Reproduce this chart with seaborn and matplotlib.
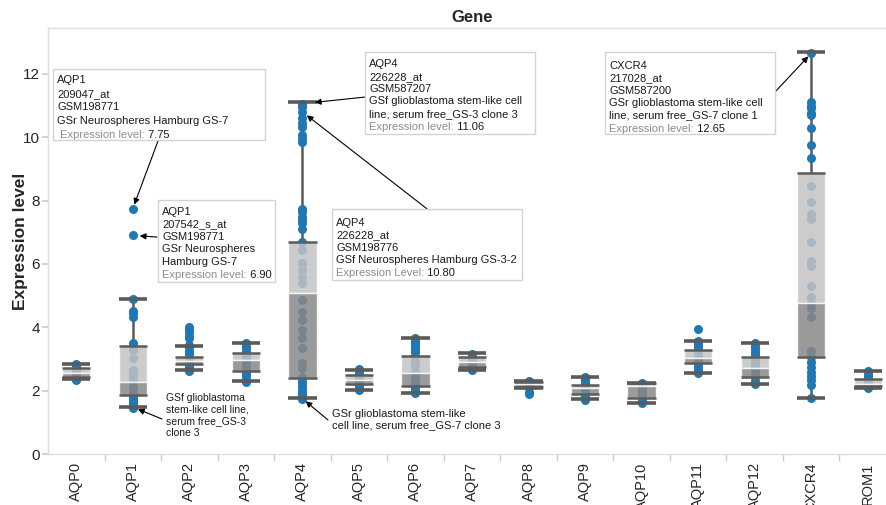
import numpy as np
import pandas as pd
import seaborn as sns
import matplotlib.pyplot as plt
from matplotlib.patches import Rectangle

genes = ['AQP0', 'AQP1', 'AQP2', 'AQP3', 'AQP4', 'AQP5', 'AQP6', 'AQP7',
         'AQP8', 'AQP9', 'AQP10', 'AQP11', 'AQP12', 'CXCR4', 'ROM1']

# sample-level expression values
aqp0 = [2.83, 2.78, 2.72, 2.65, 2.60, 2.55, 2.50, 2.45, 2.42, 2.38, 2.33]
aqp1 = [7.75, 6.90, 4.89, 4.53, 4.44, 4.34, 3.52, 3.42, 3.28, 3.02, 2.65, 2.55,
        2.45, 2.34, 2.13, 1.95, 1.81, 1.70, 1.60, 1.55, 1.48, 1.44]
aqp2 = [4.00, 3.92, 3.84, 3.74, 3.66, 3.45, 3.38, 3.25, 3.15, 3.05, 2.98, 2.90,
        2.82, 2.75, 2.68, 2.63]
aqp3 = [3.50, 3.42, 3.35, 3.25, 3.15, 3.05, 2.95, 2.85, 2.75, 2.65, 2.55, 2.45,
        2.35, 2.26]
aqp4 = [11.06, 10.95, 10.80, 10.62, 10.44, 10.33, 10.07, 9.95, 9.86, 7.72, 7.65,
        7.49, 7.38, 7.28, 7.10, 6.70, 6.44, 6.02, 5.81, 5.60, 5.39, 4.86, 4.49,
        4.23, 3.92, 3.65, 3.34, 2.86, 2.71, 2.44, 2.30, 2.20, 2.10, 2.00, 1.90,
        1.82, 1.75]
aqp5 = [2.68, 2.60, 2.52, 2.45, 2.38, 2.30, 2.22, 2.15, 2.08, 2.03]
aqp6 = [3.65, 3.58, 3.50, 3.42, 3.33, 3.22, 3.10, 2.95, 2.80, 2.60, 2.42, 2.30,
        2.18, 2.08, 2.00, 1.92]
aqp7 = [3.15, 3.08, 3.00, 2.92, 2.85, 2.78, 2.70, 2.65]
aqp8 = [2.30, 2.25, 2.20, 2.15, 2.10, 1.95, 1.88]
aqp9 = [2.42, 2.35, 2.25, 2.15, 2.05, 1.95, 1.85, 1.76, 1.70]
aqp10 = [2.25, 2.18, 2.10, 2.00, 1.92, 1.85, 1.76, 1.68, 1.62]
aqp11 = [3.95, 3.58, 3.50, 3.40, 3.30, 3.18, 3.05, 2.95, 2.85, 2.75, 2.65, 2.57]
aqp12 = [3.50, 3.42, 3.32, 3.22, 3.12, 3.02, 2.92, 2.80, 2.68, 2.55, 2.42, 2.30,
         2.21]
cxcr4 = [12.65, 11.12, 11.00, 10.91, 10.78, 10.70, 10.30, 9.75, 9.34, 8.46, 7.96,
         7.58, 7.41, 6.70, 6.09, 5.94, 5.30, 4.97, 4.78, 4.60, 4.34, 3.25, 3.07,
         2.91, 2.75, 2.60, 2.45, 2.34, 2.18, 1.76]
rom1 = [2.63, 2.55, 2.45, 2.38, 2.30, 2.22, 2.15, 2.08]
points = [aqp0, aqp1, aqp2, aqp3, aqp4, aqp5, aqp6, aqp7, aqp8, aqp9, aqp10,
          aqp11, aqp12, cxcr4, rom1]

# box summaries as drawn in the chart
whisker_hi = np.array([2.84, 4.89, 3.41, 3.49, 11.10, 2.65, 3.65, 3.20, 2.30, 2.42, 2.25, 3.58, 3.49, 12.70, 2.63])
q3 = np.array([2.70, 3.42, 3.07, 3.18, 6.70, 2.49, 3.09, 3.07, 2.27, 2.19, 2.24, 3.28, 3.05, 8.88, 2.37])
median = np.array([2.55, 2.28, 2.94, 2.97, 5.07, 2.34, 2.57, 2.91, 2.20, 2.07, 2.15, 3.02, 2.70, 4.78, 2.22])
q1 = np.array([2.44, 1.86, 2.84, 2.63, 2.39, 2.21, 2.15, 2.76, 2.12, 1.89, 1.76, 2.88, 2.42, 3.07, 2.15])
whisker_lo = np.array([2.36, 1.49, 2.65, 2.30, 1.76, 2.02, 1.92, 2.65, 2.07, 1.73, 1.62, 2.57, 2.21, 1.76, 2.07])

sns.set_theme(style='ticks')
plt.rcParams['font.family'] = ['Liberation Sans', 'DejaVu Sans']

df = pd.DataFrame({
    'Gene': np.repeat(genes, [len(p) for p in points]),
    'Expression': np.concatenate(points),
})

fig = plt.figure(figsize=(8.87, 5.05), dpi=100)
ax = fig.add_axes([48 / 887, 51 / 505, 848 / 887, 426 / 505])

sns.stripplot(data=df, x='Gene', y='Expression', order=genes, jitter=False,
              color='#1f77b4', size=6.5, linewidth=0, ax=ax, zorder=2)

pos = np.arange(len(genes))
w = 0.5
line_c = '#5a5a5a'
# whiskers under the points, box over them
ax.vlines(pos, q3, whisker_hi, color=line_c, lw=1.8, zorder=1.5)
ax.vlines(pos, whisker_lo, q1, color=line_c, lw=1.8, zorder=1.5)
ax.bar(pos, q3 - median, bottom=median, width=w, color='#c3c3c3', alpha=0.85, zorder=3)
ax.bar(pos, median - q1, bottom=q1, width=w, color='#888888', alpha=0.85, zorder=3)
ax.hlines(np.r_[q3, q1], np.r_[pos, pos] - w / 2, np.r_[pos, pos] + w / 2,
          color=line_c, lw=1.8, zorder=3.5)
ax.hlines(np.r_[whisker_hi, whisker_lo], np.r_[pos, pos] - w / 2, np.r_[pos, pos] + w / 2,
          color=line_c, lw=2.6, zorder=3.5)

ax.set_xlim(-0.5, len(genes) - 0.5)
ax.set_ylim(0, 13.45)
ax.set_yticks(range(0, 13, 2))
ax.set_xticks(np.arange(0.5, len(genes) - 1, 1), minor=True)
ax.tick_params(axis='y', length=4, color='#cccccc', labelsize=11, pad=2)
ax.tick_params(axis='x', which='major', length=0, labelsize=10.5, rotation=90, pad=6)
ax.tick_params(axis='x', which='minor', length=5, color='#cccccc')
for s in ax.spines.values():
    s.set_color('#dddddd')
    s.set_linewidth(1)
ax.spines['right'].set_visible(False)
ax.set_xlabel('')
ax.set_ylabel('Expression level', fontsize=12.5, fontweight='bold', labelpad=-4)
ax.set_title('Gene', fontsize=12, fontweight='bold', pad=4)

txt_c = '#1a1a1a'


def tooltip(x0, x1, y0, y1, lines, label, value, top=-5.2, ls=1.30, gap=-2.3):
    ax.add_patch(Rectangle((x0, y1), x1 - x0, y0 - y1, fc='white', ec='#d3d3d3',
                           lw=1, zorder=5))
    t = ax.annotate('\n'.join(lines), xy=(x0, y0), xytext=(3, top),
                    textcoords='offset points', ha='left', va='top', fontsize=8,
                    color=txt_c, linespacing=ls, zorder=6)
    g = ax.annotate(label, xy=(0, 0), xycoords=t, xytext=(0, gap),
                    textcoords='offset points', ha='left', va='top', fontsize=8,
                    color='#8c8c8c', zorder=6)
    ax.annotate(' ' + value, xy=(1, 0), xycoords=g, ha='left', va='bottom',
                fontsize=8, color=txt_c, zorder=6)


def arrow(start, end, shrink):
    ax.annotate('', xy=end, xytext=start,
                arrowprops=dict(arrowstyle='-|>', color='black', lw=0.8,
                                shrinkA=0, shrinkB=shrink, mutation_scale=9),
                zorder=4)


tooltip(-0.412, 3.339, 12.16, 9.915,
        ['AQP1', '209047_at', 'GSM198771', 'GSr Neurospheres Hamburg GS-7'],
        ' Expression level:', '7.75', top=-4.5, ls=1.44, gap=-3.2)
tooltip(1.446, 3.516, 8.02, 5.431,
        ['AQP1', '207542_s_at', 'GSM198771', 'GSr Neurospheres', 'Hamburg GS-7'],
        'Expression level:', '6.90')
tooltip(5.108, 8.115, 12.69, 10.10,
        ['AQP4', '226228_at', 'GSM587207', 'GSf glioblastoma stem-like cell',
         'line, serum free_GS-3 clone 3'],
        'Expression level:', '11.06')
tooltip(4.524, 7.885, 7.74, 5.494,
        ['AQP4', '226228_at', 'GSM198776', 'GSf Neurospheres Hamburg GS-3-2'],
        'Expression Level:', '10.80', top=-6.5)
tooltip(9.353, 12.36, 12.69, 10.10,
        ['CXCR4', '217028_at', 'GSM587200', 'GSr glioblastoma stem-like cell',
         'line, serum free_GS-7 clone 1'],
        'Expression level:', '12.65', top=-6.3)

arrow((1.446, 9.883), (1, 7.75), 3)
arrow((1.428, 6.85), (1, 6.90), 5)
arrow((5.108, 11.27), (4, 11.06), 9)
arrow((6.204, 7.74), (4, 10.80), 4)
arrow((12.36, 11.43), (13, 12.65), 3)
arrow((1.517, 1.105), (1, 1.48), 4)
arrow((4.453, 1.074), (4, 1.75), 3)

ax.text(1.587, 1.93, 'GSf glioblastoma\nstem-like cell line,\nserum free_GS-3\nclone 3',
        fontsize=7.5, color=txt_c, ha='left', va='top', zorder=6)
ax.text(4.524, 1.42, 'GSr glioblastoma stem-like\ncell line, serum free_GS-7 clone 3',
        fontsize=8, color=txt_c, ha='left', va='top', linespacing=1.1, zorder=6)

fig.savefig('out.png', dpi=100)
